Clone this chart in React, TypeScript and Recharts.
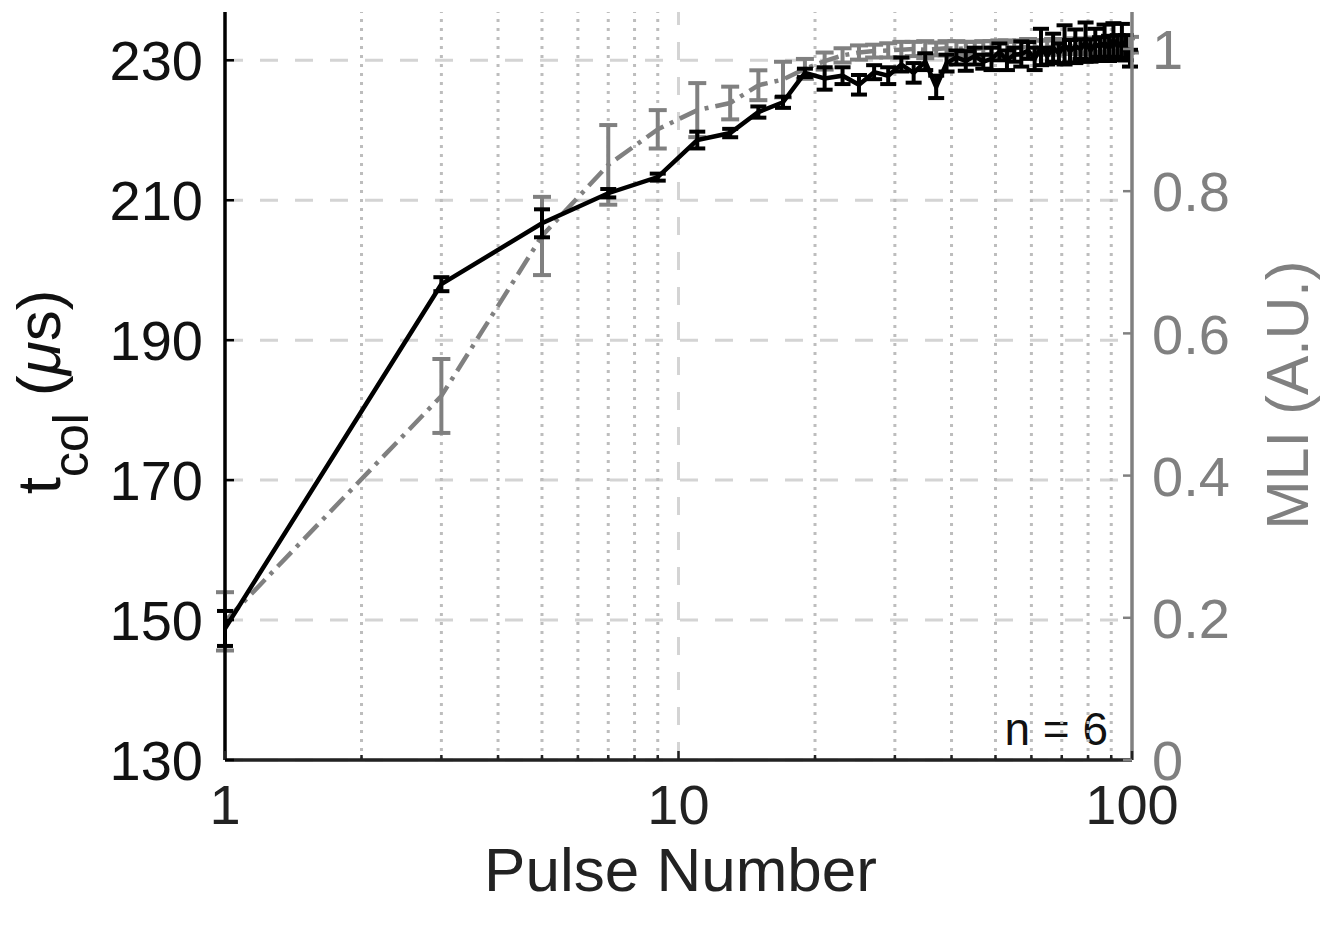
import React from "react";
import {
  LineChart,
  Line,
  XAxis,
  YAxis,
  CartesianGrid,
  ReferenceLine,
  ErrorBar,
  Label,
} from "recharts";

const pulses = [
  1, 3, 5, 7, 9, 11, 13, 15, 17, 19, 21, 23, 25, 27, 29, 31, 33, 35, 37, 39,
  41, 43, 45, 47, 49, 51, 53, 55, 57, 59, 61, 63, 65, 67, 69, 71, 73, 75, 77,
  79, 81, 83, 85, 87, 89, 91, 93, 95, 97, 99,
];

// t_col (us), left axis
const tcol = [
  148.8, 198.0, 206.7, 211.0, 213.3, 218.6, 219.6, 222.6, 224.0, 228.2, 227.4,
  227.8, 226.5, 228.3, 227.8, 229.4, 228.2, 229.8, 226.2, 229.6, 230.4, 229.9,
  230.6, 229.8, 230.2, 231.2, 230.0, 230.8, 230.9, 231.4, 230.2, 231.9, 230.6,
  231.8, 231.0, 232.2, 231.3, 232.0, 231.6, 232.6, 231.4, 232.3, 231.9, 232.5,
  231.7, 232.9, 232.0, 232.6, 231.8, 230.3,
];
const tcolErr = [
  2.5, 1.0, 2.0, 0.6, 0.5, 1.2, 0.6, 0.8, 0.8, 0.6, 1.6, 1.2, 1.4, 1.0, 1.2,
  1.0, 1.4, 1.2, 1.6, 1.2, 1.0, 1.4, 1.2, 1.0, 1.6, 1.2, 1.4, 1.0, 1.8, 1.2,
  1.6, 2.6, 1.2, 2.0, 1.4, 2.8, 1.6, 2.4, 1.4, 2.8, 1.6, 2.2, 1.4, 2.6, 1.8,
  2.4, 1.6, 2.6, 1.8, 1.2,
];

// MLI (A.U.), right axis
const mli = [
  0.195, 0.512, 0.737, 0.837, 0.887, 0.914, 0.924, 0.949, 0.957, 0.972, 0.983,
  0.991, 0.995, 0.997, 0.998, 0.999, 1.0, 0.999, 1.0, 1.001, 1.0, 1.001, 1.0,
  1.001, 1.002, 1.001, 1.002, 1.001, 1.002, 1.003, 1.002, 1.003, 1.002, 1.003,
  1.003, 1.004, 1.003, 1.004, 1.003, 1.004, 1.004, 1.005, 1.004, 1.005, 1.004,
  1.005, 1.005, 1.006, 1.005, 1.006,
];
const mliErr = [
  0.041, 0.052, 0.055, 0.056, 0.027, 0.038, 0.023, 0.021, 0.025, 0.014, 0.012,
  0.01, 0.01, 0.009, 0.01, 0.011, 0.01, 0.012, 0.009, 0.01, 0.011, 0.009, 0.01,
  0.01, 0.009, 0.011, 0.01, 0.009, 0.01, 0.011, 0.01, 0.009, 0.01, 0.011, 0.01,
  0.009, 0.01, 0.011, 0.01, 0.009, 0.01, 0.011, 0.01, 0.009, 0.01, 0.011, 0.01,
  0.009, 0.01, 0.011,
];

const xTicks = [1, 2, 3, 4, 5, 6, 7, 8, 9, 10, 20, 30, 40, 50, 60, 70, 80, 90, 100];
const xLabels = [1, 10, 100];
const minorX = [2, 3, 4, 5, 6, 7, 8, 9, 20, 30, 40, 50, 60, 70, 80, 90];
const leftTicks = [130, 150, 170, 190, 210, 230];
const rightTicks = [0, 0.2, 0.4, 0.6, 0.8, 1];

const data = pulses.map((p, i) => ({
  pulse: p,
  tcol: tcol[i],
  tcolErr: tcolErr[i],
  mli: mli[i],
  mliErr: mliErr[i],
}));

const FONT = '"Liberation Sans", Arial, Helvetica, sans-serif';
const GRAY = "#808080";
const GRID = "#d4d4d4";

const LeftTick = ({ x, y, payload }: any) => (
  <g>
    <line x1={x} x2={x + 9} y1={y} y2={y} stroke="#000" strokeWidth={2.5} />
    <text x={x - 22} y={y} dy="0.36em" textAnchor="end" fontSize={56} fontFamily={FONT} fill="#111">
      {payload.value}
    </text>
  </g>
);

const RightTick = ({ x, y, payload }: any) => (
  <g>
    <line x1={x - 9} x2={x} y1={y} y2={y} stroke={GRAY} strokeWidth={2.5} />
    <text x={x + 20} y={y} dy="0.36em" textAnchor="start" fontSize={56} fontFamily={FONT} fill={GRAY}>
      {payload.value}
    </text>
  </g>
);

const BottomTick = ({ x, y, payload }: any) => {
  const major = xLabels.includes(payload.value);
  return (
    <g>
      <line x1={x} x2={x} y1={y} y2={y - (major ? 9 : 5)} stroke="#222" strokeWidth={2.5} />
      {major && (
        <text x={x} y={y + 64} textAnchor="middle" fontSize={56} fontFamily={FONT} fill="#222">
          {payload.value}
        </text>
      )}
    </g>
  );
};

const TopTick = ({ x, y, payload }: any) => {
  const major = xLabels.includes(payload.value);
  return <line x1={x} x2={x} y1={y} y2={y + (major ? 9 : 5)} stroke="#222" strokeWidth={2.5} />;
};

const LeftTitle = ({ viewBox }: any) => {
  const cx = viewBox.x + 52;
  const cy = viewBox.y + viewBox.height / 2 + 6;
  return (
    <text
      x={cx}
      y={cy}
      transform={`rotate(-90 ${cx} ${cy})`}
      textAnchor="middle"
      fontSize={62}
      fontFamily={FONT}
      fill="#111"
    >
      <tspan>t</tspan>
      <tspan fontSize={50} dy={28}>col</tspan>
      <tspan dy={-28}>{" ("}</tspan>
      <tspan fontStyle="italic">μ</tspan>
      <tspan>s)</tspan>
    </text>
  );
};

const RightTitle = ({ viewBox }: any) => {
  const cx = viewBox.x + 176;
  const cy = viewBox.y + viewBox.height / 2 + 9;
  return (
    <text
      x={cx}
      y={cy}
      transform={`rotate(-90 ${cx} ${cy})`}
      textAnchor="middle"
      fontSize={59}
      fontFamily={FONT}
      fill={GRAY}
    >
      MLI (A.U.)
    </text>
  );
};

const BottomTitle = ({ viewBox }: any) => (
  <text
    x={viewBox.x + viewBox.width / 2 + 2}
    y={viewBox.y + 131}
    textAnchor="middle"
    fontSize={62}
    fontFamily={FONT}
    fill="#222"
  >
    Pulse Number
  </text>
);

export default function App() {
  return (
    <LineChart
      width={1326}
      height={917}
      data={data}
      margin={{ top: 4, right: 0, bottom: 0, left: 0 }}
    >
      <CartesianGrid
        yAxisId="left"
        vertical={false}
        horizontalValues={leftTicks}
        stroke={GRID}
        strokeWidth={3}
        strokeDasharray="18 17"
      />
      {minorX.map((v) => (
        <ReferenceLine
          key={v}
          x={v}
          yAxisId="left"
          stroke="#bdbdbd"
          strokeWidth={3}
          strokeDasharray="3 6"
        />
      ))}
      <ReferenceLine x={10} yAxisId="left" stroke={GRID} strokeWidth={3} strokeDasharray="18 17" />

      <XAxis
        dataKey="pulse"
        type="number"
        scale="log"
        domain={[1, 100]}
        ticks={xTicks}
        interval={0}
        allowDataOverflow
        height={165}
        tickSize={0}
        tickMargin={0}
        tickLine={false}
        tick={<BottomTick />}
        axisLine={{ stroke: "#222", strokeWidth: 3.5 }}
      >
        <Label content={<BottomTitle />} />
      </XAxis>
      <XAxis
        xAxisId="top"
        orientation="top"
        dataKey="pulse"
        type="number"
        scale="log"
        domain={[1, 100]}
        ticks={xTicks}
        interval={0}
        allowDataOverflow
        height={0}
        tickSize={0}
        tickMargin={0}
        tickLine={false}
        tick={<TopTick />}
        axisLine={{ stroke: "#222", strokeWidth: 3.5 }}
      />
      <YAxis
        yAxisId="left"
        type="number"
        domain={[130, 236.9]}
        ticks={leftTicks}
        interval={0}
        allowDataOverflow
        width={217}
        tickSize={0}
        tickMargin={0}
        tickLine={false}
        tick={<LeftTick />}
        axisLine={{ stroke: "#000", strokeWidth: 3.5 }}
      >
        <Label content={<LeftTitle />} />
      </YAxis>
      <YAxis
        yAxisId="right"
        orientation="right"
        type="number"
        domain={[0, 1.052]}
        ticks={rightTicks}
        interval={0}
        allowDataOverflow
        width={202}
        tickSize={0}
        tickMargin={0}
        tickLine={false}
        tick={<RightTick />}
        axisLine={{ stroke: GRAY, strokeWidth: 3.5 }}
      >
        <Label content={<RightTitle />} />
      </YAxis>

      <Line
        yAxisId="right"
        dataKey="mli"
        stroke={GRAY}
        strokeWidth={4.5}
        strokeDasharray="20 7 4 7"
        dot={false}
        activeDot={false}
        isAnimationActive={false}
      >
        <ErrorBar dataKey="mliErr" direction="y" width={9} stroke={GRAY} strokeWidth={4} />
      </Line>
      <Line
        yAxisId="left"
        dataKey="tcol"
        stroke="#000"
        strokeWidth={4.5}
        dot={false}
        activeDot={false}
        isAnimationActive={false}
      >
        <ErrorBar dataKey="tcolErr" direction="y" width={8} stroke="#000" strokeWidth={4} />
      </Line>

      <text x={1100} y={737} textAnchor="end" fontSize={46} fontFamily={FONT} fill="#111">
        n = 6
      </text>
    </LineChart>
  );
}
